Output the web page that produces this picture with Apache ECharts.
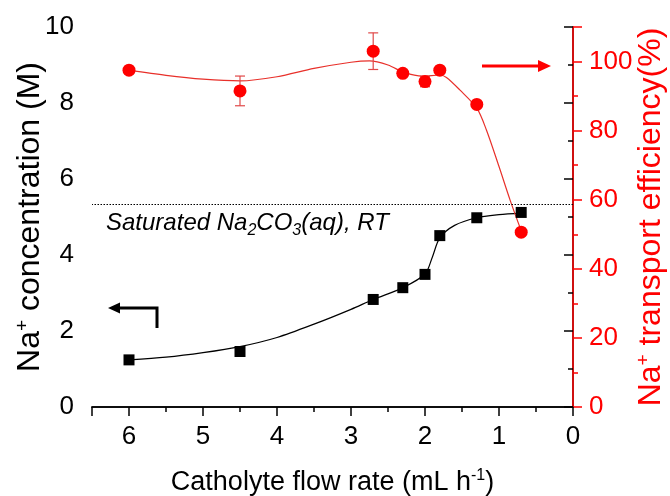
<!DOCTYPE html>
<html lang="en">
<head>
    <meta charset="UTF-8">
    <title>Na+ concentration vs flow rate</title>
    <script src="https://cdn.jsdelivr.net/npm/echarts@6/dist/echarts.min.js"></script>
</head>
<style>
    body { margin:0; padding:0; background:#fff; }
</style>
<body>

<div id="main" style="width: 670px;height: 496px;"></div>

<script>
    // measured points
    var flowRate = [6, 4.5, 2.7, 2.3, 2.0, 1.8, 1.3, 0.7];
    var naConc = [1.24, 1.46, 2.83, 3.14, 3.49, 4.51, 4.98, 5.12];
    var efficiency = [97.5, 91.5, 103.0, 96.6, 94.2, 97.5, 87.6, 50.6];
    var effError = [1.0, 4.3, 5.3, 0.8, 1.5, 0.5, 0.5, 0.5];

    // fitted curves
    var concFitX = [6, 5.5, 5, 4.5, 4, 3.5, 3, 2.7, 2.3, 2.0, 1.9, 1.8, 1.6, 1.3, 1.0, 0.7];
    var concFitY = [1.24, 1.31, 1.43, 1.59, 1.83, 2.18, 2.57, 2.83, 3.14, 3.5, 3.95, 4.45, 4.78, 4.98, 5.06, 5.1];
    var effFitX = [6, 5.5, 5, 4.5, 4, 3.5, 3, 2.75, 2.5, 2.27, 2.03, 1.8, 1.71, 1.53, 1.3, 1.17, 1.0, 0.85, 0.7];
    var effFitY = [97.5, 96, 94.9, 94.4, 95.6, 98, 99.8, 100.2, 99, 96.7, 95.8, 96.1, 95.4, 91.8, 86.5, 80.2, 69.6, 59.9, 51];

    var saturatedLevel = 5.34;

    function zip(xs, ys) {
        return xs.map(function (x, i) { return [x, ys[i]]; });
    }

    var FONT = '"Liberation Sans", Arial, sans-serif';
    var RED = '#ff0000';

    var myChart = echarts.init(document.getElementById('main'));

    var option = {
        backgroundColor: '#fff',
        animation: false,
        grid: { left: 92, right: 97, top: 27, bottom: 89, outerBoundsMode: 'none', containLabel: false },
        xAxis: [{
            type: 'value',
            inverse: true,
            min: 0, max: 6.5, interval: 1,
            name: 'Catholyte flow rate (mL h{sup|-1})',
            nameLocation: 'middle',
            nameGap: 61,
            nameTextStyle: {
                color: '#000', fontSize: 27, fontFamily: FONT, lineHeight: 30,
                rich: { sup: { fontSize: 16, verticalAlign: 'top', lineHeight: 30, fontFamily: FONT, color: '#000' } }
            },
            axisLine: { lineStyle: { color: '#000', width: 1.5 } },
            axisTick: { inside: false, length: 9, lineStyle: { color: '#000', width: 1.5 } },
            minorTick: { show: true, splitNumber: 2, length: 5, lineStyle: { color: '#000', width: 1.5 } },
            splitLine: { show: false },
            axisLabel: {
                color: '#000', fontSize: 26, fontFamily: FONT, margin: 17,
                formatter: function (v) { return v > 6 ? '' : v; }
            }
        }, {
            type: 'value',
            position: 'top',
            inverse: true,
            min: 0, max: 6.5,
            axisLine: { lineStyle: { color: '#000', width: 1.5 } },
            axisTick: { show: false },
            axisLabel: { show: false },
            splitLine: { show: false }
        }],
        yAxis: [{
            type: 'value',
            min: 0, max: 10, interval: 2,
            position: 'left',
            name: 'Na{sup|+} concentration (M)',
            nameLocation: 'middle',
            nameRotate: 90,
            nameGap: 45,
            nameMoveOverlap: false,
            nameTextStyle: {
                color: '#000', fontSize: 32, fontFamily: FONT, lineHeight: 34,
                rich: { sup: { fontSize: 19, verticalAlign: 'top', lineHeight: 34, fontFamily: FONT, color: '#000' } }
            },
            axisLine: { show: true, lineStyle: { color: '#000', width: 1.5 } },
            axisTick: { show: true, length: 9, lineStyle: { color: '#000', width: 1.5 } },
            minorTick: { show: true, splitNumber: 2, length: 5, lineStyle: { color: '#000', width: 1.5 } },
            splitLine: { show: false },
            axisLabel: { color: '#000', fontSize: 26, fontFamily: FONT, margin: 18 }
        }, {
            type: 'value',
            min: 0, max: 110, interval: 20,
            position: 'right',
            alignTicks: false,
            name: 'Na{sup|+} transport efficiency(%)',
            nameLocation: 'middle',
            nameRotate: 90,
            nameGap: 61,
            nameMoveOverlap: false,
            nameTextStyle: {
                color: RED, fontSize: 32, fontFamily: FONT, lineHeight: 34,
                rich: { sup: { fontSize: 19, verticalAlign: 'top', lineHeight: 34, fontFamily: FONT, color: RED } }
            },
            axisLine: { show: true, lineStyle: { color: RED, width: 1.5 } },
            axisTick: { show: true, length: 9, lineStyle: { color: RED, width: 1.5 } },
            minorTick: { show: true, splitNumber: 2, length: 5, lineStyle: { color: RED, width: 1.5 } },
            splitLine: { show: false },
            axisLabel: {
                color: RED, fontSize: 26, fontFamily: FONT, margin: 16,
                formatter: function (v) { return v > 100 ? '' : v; }
            }
        }],
        series: [
            {
                name: 'conc fit',
                type: 'line',
                yAxisIndex: 0,
                data: zip(concFitX, concFitY),
                smooth: 0.3,
                showSymbol: false,
                lineStyle: { color: '#000', width: 1.2 },
                z: 2,
                markLine: {
                    silent: true,
                    symbol: 'none',
                    label: { show: false },
                    lineStyle: { color: '#000', type: [1.5, 1.5], width: 1.2 },
                    data: [{ yAxis: saturatedLevel }]
                }
            },
            {
                name: 'Na+ concentration',
                type: 'scatter',
                yAxisIndex: 0,
                data: zip(flowRate, naConc),
                symbol: 'rect',
                symbolSize: 11,
                itemStyle: { color: '#000', opacity: 1 },
                z: 4
            },
            {
                name: 'eff fit',
                type: 'line',
                yAxisIndex: 1,
                data: zip(effFitX, effFitY),
                smooth: 0.3,
                showSymbol: false,
                lineStyle: { color: '#e8302a', width: 1.2 },
                z: 2
            },
            {
                name: 'error',
                type: 'custom',
                yAxisIndex: 1,
                data: flowRate.map(function (x, i) { return [x, efficiency[i] - effError[i], efficiency[i] + effError[i]]; }),
                renderItem: function (params, api) {
                    var lo = api.coord([api.value(0), api.value(1)]);
                    var hi = api.coord([api.value(0), api.value(2)]);
                    var w = 5;
                    var st = { stroke: '#e04848', lineWidth: 1.2, fill: null };
                    return {
                        type: 'group',
                        children: [
                            { type: 'line', shape: { x1: lo[0], y1: lo[1], x2: hi[0], y2: hi[1] }, style: st },
                            { type: 'line', shape: { x1: lo[0] - w, y1: lo[1], x2: lo[0] + w, y2: lo[1] }, style: st },
                            { type: 'line', shape: { x1: hi[0] - w, y1: hi[1], x2: hi[0] + w, y2: hi[1] }, style: st }
                        ]
                    };
                },
                z: 3
            },
            {
                name: 'Na+ transport efficiency',
                type: 'scatter',
                yAxisIndex: 1,
                data: zip(flowRate, efficiency),
                symbol: 'circle',
                symbolSize: 13,
                itemStyle: { color: RED, opacity: 1 },
                z: 4
            }
        ],
        graphic: [
            {
                type: 'text',
                left: 106,
                top: 211,
                style: {
                    text: '{i|Saturated Na}{s|2}{i|CO}{s|3}{i|(aq), RT}',
                    rich: {
                        i: { fontSize: 24, fontStyle: 'italic', fontFamily: FONT, fill: '#000', lineHeight: 30, verticalAlign: 'bottom' },
                        s: { fontSize: 16, fontStyle: 'italic', fontFamily: FONT, fill: '#000', lineHeight: 30, verticalAlign: 'bottom', padding: [0, 0, -4, 0] }
                    }
                }
            },
            // black arrow pointing to the left axis
            {
                type: 'polyline',
                shape: { points: [[157, 328], [157, 308], [117, 308]] },
                style: { stroke: '#000', lineWidth: 3, fill: null }
            },
            {
                type: 'polygon',
                shape: { points: [[108, 308], [120, 302.5], [120, 313.5]] },
                style: { fill: '#000' }
            },
            // red arrow pointing to the right axis
            {
                type: 'line',
                shape: { x1: 482, y1: 66, x2: 541, y2: 66 },
                style: { stroke: RED, lineWidth: 3 }
            },
            {
                type: 'polygon',
                shape: { points: [[551, 66], [538, 60], [538, 72]] },
                style: { fill: RED }
            }
        ]
    };

    myChart.setOption(option);
</script>

</body>
</html>
